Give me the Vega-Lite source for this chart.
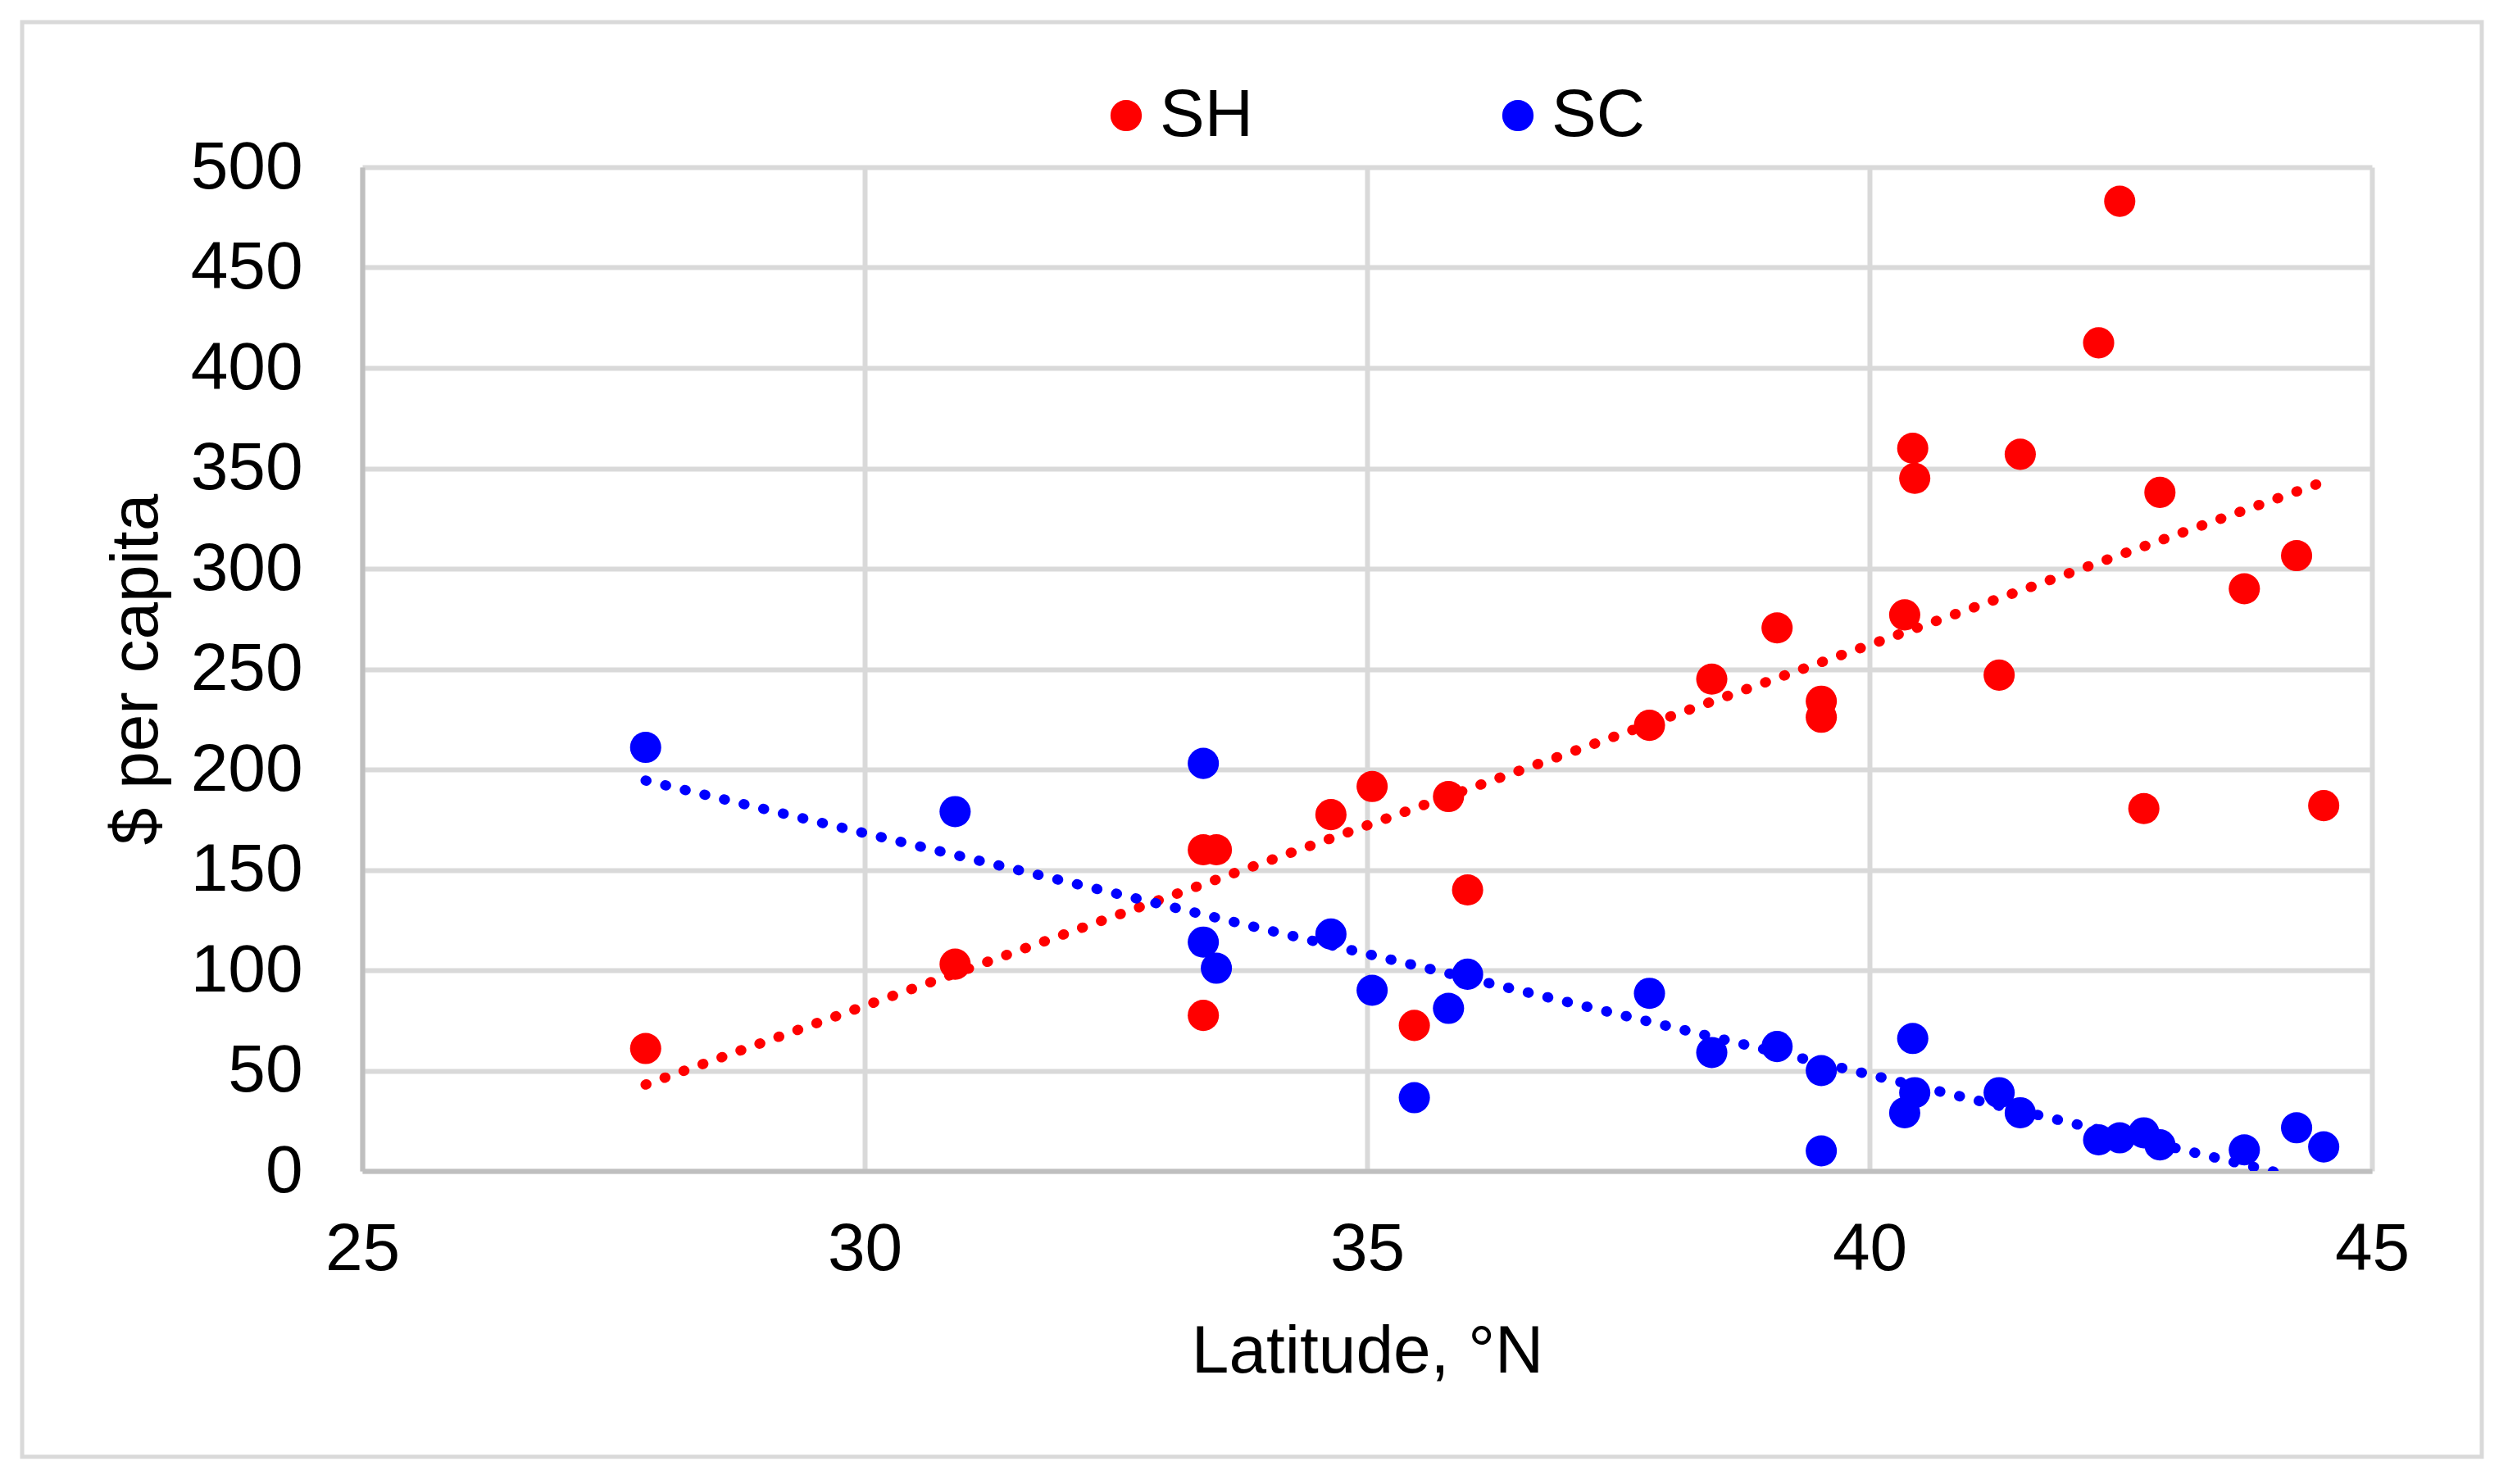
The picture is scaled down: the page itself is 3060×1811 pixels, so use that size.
{
  "$schema": "https://vega.github.io/schema/vega-lite/v6.json",
  "width": 2452,
  "height": 1225,
  "autosize": {"type": "none"},
  "padding": {"left": 442, "top": 204, "right": 166, "bottom": 382},
  "background": "white",
  "config": {
    "font": "Liberation Sans",
    "view": {"stroke": null}
  },
  "data": {
    "values": [
      {"series": "SH", "lat": 27.82, "value": 61},
      {"series": "SH", "lat": 30.90, "value": 103},
      {"series": "SH", "lat": 33.37, "value": 160},
      {"series": "SH", "lat": 33.50, "value": 160},
      {"series": "SH", "lat": 33.37, "value": 77.5},
      {"series": "SH", "lat": 34.64, "value": 177.5},
      {"series": "SH", "lat": 35.05, "value": 191.5},
      {"series": "SH", "lat": 35.47, "value": 72.5},
      {"series": "SH", "lat": 35.81, "value": 186.5},
      {"series": "SH", "lat": 36.00, "value": 140},
      {"series": "SH", "lat": 37.81, "value": 222},
      {"series": "SH", "lat": 38.43, "value": 245},
      {"series": "SH", "lat": 39.08, "value": 270.5},
      {"series": "SH", "lat": 39.52, "value": 234},
      {"series": "SH", "lat": 39.52, "value": 226},
      {"series": "SH", "lat": 40.35, "value": 277},
      {"series": "SH", "lat": 40.43, "value": 360},
      {"series": "SH", "lat": 40.45, "value": 345},
      {"series": "SH", "lat": 41.29, "value": 247},
      {"series": "SH", "lat": 41.50, "value": 357},
      {"series": "SH", "lat": 42.28, "value": 412.5},
      {"series": "SH", "lat": 42.49, "value": 483},
      {"series": "SH", "lat": 42.73, "value": 180.5},
      {"series": "SH", "lat": 42.89, "value": 338},
      {"series": "SH", "lat": 43.73, "value": 290},
      {"series": "SH", "lat": 44.25, "value": 306.5},
      {"series": "SH", "lat": 44.52, "value": 182},
      {"series": "SC", "lat": 27.82, "value": 211},
      {"series": "SC", "lat": 30.90, "value": 179},
      {"series": "SC", "lat": 33.37, "value": 203},
      {"series": "SC", "lat": 33.37, "value": 114},
      {"series": "SC", "lat": 33.50, "value": 101},
      {"series": "SC", "lat": 34.64, "value": 118},
      {"series": "SC", "lat": 35.05, "value": 90},
      {"series": "SC", "lat": 35.47, "value": 36.5},
      {"series": "SC", "lat": 35.81, "value": 81},
      {"series": "SC", "lat": 36.00, "value": 98},
      {"series": "SC", "lat": 37.81, "value": 88.5},
      {"series": "SC", "lat": 38.43, "value": 59},
      {"series": "SC", "lat": 39.08, "value": 62},
      {"series": "SC", "lat": 39.52, "value": 50},
      {"series": "SC", "lat": 39.52, "value": 10},
      {"series": "SC", "lat": 40.35, "value": 29},
      {"series": "SC", "lat": 40.43, "value": 66},
      {"series": "SC", "lat": 40.45, "value": 39},
      {"series": "SC", "lat": 41.29, "value": 39},
      {"series": "SC", "lat": 41.50, "value": 29},
      {"series": "SC", "lat": 42.28, "value": 15.5},
      {"series": "SC", "lat": 42.49, "value": 16.5},
      {"series": "SC", "lat": 42.73, "value": 19},
      {"series": "SC", "lat": 42.89, "value": 13},
      {"series": "SC", "lat": 43.73, "value": 10.5},
      {"series": "SC", "lat": 44.25, "value": 21.5},
      {"series": "SC", "lat": 44.52, "value": 12}
    ]
  },
  "layer": [
    {
      "data": {"values": [{}]},
      "mark": {"type": "rect", "fill": null, "stroke": "#D9D9D9", "strokeWidth": 5, "clip": false},
      "encoding": {
        "x": {"datum": 21.615, "type": "quantitative", "scale": {"domain": [25, 45], "nice": false, "zero": false}},
        "x2": {"datum": 46.093},
        "y": {"datum": 572.2, "type": "quantitative", "scale": {"domain": [0, 500], "nice": false, "zero": false}},
        "y2": {"datum": -142.3}
      }
    },
    {
      "mark": {"type": "circle", "size": 1450, "opacity": 1},
      "encoding": {
        "x": {
          "field": "lat", "type": "quantitative",
          "scale": {"domain": [25, 45], "nice": false, "zero": false},
          "axis": {
            "title": "Latitude, °N", "values": [25, 30, 35, 40, 45], "format": "d",
            "grid": true, "gridColor": "#D9D9D9", "gridWidth": 6,
            "domainColor": "#BFBFBF", "domainWidth": 6,
            "ticks": false, "tickSize": 0,
            "labelFontSize": 82, "labelColor": "black", "labelPadding": 55, "labelFlush": false,
            "titleFontSize": 82, "titleFontWeight": "normal", "titleColor": "black", "titlePadding": 44
          }
        },
        "y": {
          "field": "value", "type": "quantitative",
          "scale": {"domain": [0, 500], "nice": false, "zero": false},
          "axis": {
            "title": "$ per capita", "values": [0, 50, 100, 150, 200, 250, 300, 350, 400, 450, 500], "format": "d",
            "grid": true, "gridColor": "#D9D9D9", "gridWidth": 6,
            "domainColor": "#BFBFBF", "domainWidth": 6,
            "ticks": false, "tickSize": 0,
            "labelFontSize": 82, "labelColor": "black", "labelPadding": 73, "labelFlush": false,
            "titleFontSize": 82, "titleFontWeight": "normal", "titleColor": "black", "titlePadding": 34
          }
        },
        "color": {
          "field": "series", "type": "nominal",
          "scale": {"domain": ["SH", "SC"], "range": ["#FF0000", "#0000FF"]},
          "legend": {
            "orient": "none", "direction": "horizontal", "legendX": 891, "legendY": -104,
            "title": null, "labelFontSize": 82, "labelColor": "black",
            "symbolSize": 1350, "symbolType": "circle", "symbolOpacity": 1,
            "columnPadding": 282, "labelOffset": 0, "padding": 0
          }
        }
      }
    },
    {
      "transform": [{"regression": "value", "on": "lat", "groupby": ["series"]}],
      "mark": {"type": "line", "strokeWidth": 12.5, "strokeDash": [1, 23.6], "strokeCap": "round", "clip": true},
      "encoding": {
        "x": {"field": "lat", "type": "quantitative", "scale": {"domain": [25, 45], "nice": false, "zero": false}},
        "y": {"field": "value", "type": "quantitative", "scale": {"domain": [0, 500], "nice": false, "zero": false}},
        "stroke": {
          "field": "series", "type": "nominal",
          "scale": {"domain": ["SH", "SC"], "range": ["#FF0000", "#0000FF"]},
          "legend": null
        }
      }
    }
  ]
}
